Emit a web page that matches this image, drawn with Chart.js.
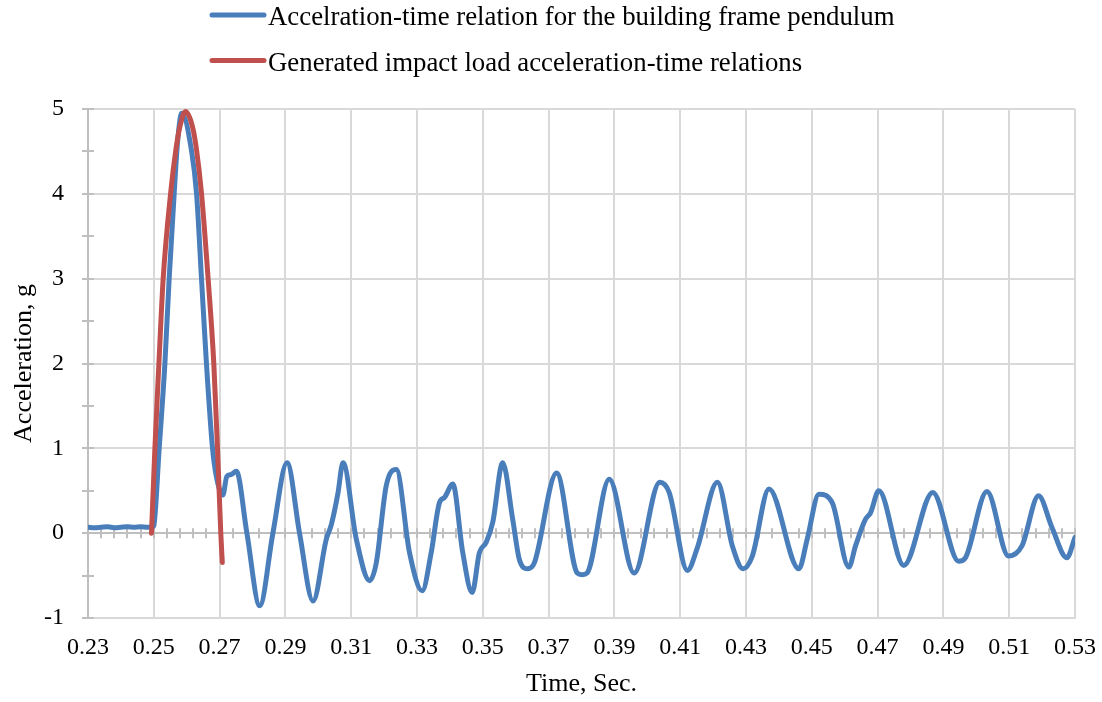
<!DOCTYPE html>
<html>
<head>
<meta charset="utf-8">
<title>Acceleration-time</title>
<script src="https://cdn.jsdelivr.net/npm/chart.js@4.4.1/dist/chart.umd.min.js"></script>
<style>
    html, body { margin: 0; padding: 0; background: #fff; }
    #chart { display: block; }
</style>
</head>
<body>
<canvas id="chart" width="1102" height="702"></canvas>
<script>
// building frame pendulum (blue)
const blueTime = [
    0.2300, 0.2320, 0.2340, 0.2360, 0.2380, 0.2400, 0.2420, 0.2440, 0.2460, 0.2480, 0.2495,
    0.2500, 0.25164, 0.25337, 0.25467, 0.25619, 0.2572, 0.2585, 0.2615, 0.2630, 0.2645,
    0.2660, 0.26785, 0.2690, 0.2710, 0.2722, 0.2735, 0.2751, 0.2783, 0.2822, 0.2862,
    0.2905, 0.2943, 0.2984, 0.30244, 0.30396, 0.30597, 0.3075, 0.31155, 0.3156, 0.31762,
    0.32065, 0.3237, 0.32773, 0.33158, 0.33431, 0.33683, 0.33835, 0.34087, 0.34391, 0.34676,
    0.34897, 0.35101, 0.35301, 0.35605, 0.35908, 0.36111, 0.36363, 0.36566, 0.37243, 0.3787,
    0.3802, 0.3817, 0.38843, 0.3960, 0.4038, 0.40664, 0.41219, 0.41523, 0.4213, 0.42585,
    0.4291, 0.43192, 0.43699, 0.44609, 0.44861, 0.45216, 0.4562, 0.46126, 0.46329, 0.46633,
    0.46785, 0.47037, 0.47796, 0.48676, 0.49465, 0.49668, 0.50324, 0.5098, 0.51387, 0.51893,
    0.52297, 0.52752, 0.5300,
];
const blueAccel = [
    0.07, 0.065, 0.07, 0.075, 0.065, 0.07, 0.075, 0.07, 0.075, 0.07, 0.07,
    0.09, 1.0, 2.0, 3.0, 4.0, 4.6, 4.95, 4.5, 4.0, 3.0,
    2.0, 1.0, 0.67, 0.45, 0.67, 0.69, 0.73, 0.0, -0.855, 0.0,
    0.83, 0.0, -0.80, -0.07, 0.10, 0.47, 0.83, -0.07, -0.56, -0.35,
    0.56, 0.75, -0.23, -0.68, -0.23, 0.36, 0.42, 0.58, -0.23, -0.70,
    -0.23, -0.11, 0.125, 0.83, 0.165, -0.31, -0.42, -0.35, 0.71, -0.47,
    -0.49, -0.47, 0.635, -0.47, 0.60, 0.48, -0.44, -0.17, 0.60, -0.15,
    -0.42, -0.27, 0.52, -0.42, -0.07, 0.46, 0.36, -0.40, -0.15, 0.165,
    0.24, 0.50, -0.38, 0.48, -0.33, -0.29, 0.49, -0.27, -0.15, 0.44,
    0.07, -0.29, -0.05,
];

// generated impact load (red)
const redTime = [
    0.2493, 0.25033, 0.25155, 0.25285, 0.2551, 0.25671, 0.25792, 0.25965,
    0.26177, 0.26299, 0.26451, 0.26651, 0.26824, 0.26936, 0.27036, 0.27082,
];
const redAccel = [
    0.0, 1.0, 2.0, 3.0, 4.0, 4.52, 4.79, 4.97,
    4.79, 4.52, 4.0, 3.0, 2.0, 1.0, 0.0, -0.345,
];

const seriesLabels = [
    'Accelration-time relation for the building frame pendulum',
    'Generated impact load acceleration-time relations',
];

const xMin = 0.23;
const xMax = 0.53;
const xStep = 0.02;
const xMinorStep = 0.004;
const yMin = -1;
const yMax = 5;
const yMinorStep = 0.5;

const gridColor = '#d9d9d9';
const axisColor = '#bfbfbf';
const fontFamily = '"Liberation Serif", "Times New Roman", serif';

function toPoints(xs, ys) {
    return xs.map((x, i) => ({ x, y: ys[i] }));
}

// Excel-style crossing ticks: minor ticks along y = 0, half-unit ticks on the value axis
const axisTicksPlugin = {
    id: 'axisTicks',
    beforeDatasetsDraw(chart) {
        const { ctx, scales: { x, y } } = chart;
        const zeroY = y.getPixelForValue(0);
        const xCount = Math.round((x.max - x.min) / xMinorStep);
        const yCount = Math.round((y.max - y.min) / yMinorStep);

        ctx.save();
        ctx.strokeStyle = axisColor;
        ctx.lineWidth = 2;
        ctx.beginPath();
        for (let i = 0; i <= xCount; i++) {
            const px = Math.round(x.getPixelForValue(x.min + i * xMinorStep));
            ctx.moveTo(px, zeroY - 5);
            ctx.lineTo(px, zeroY + 5);
        }
        for (let i = 0; i <= yCount; i++) {
            const py = Math.round(y.getPixelForValue(y.min + i * yMinorStep));
            ctx.moveTo(x.left - 6, py);
            ctx.lineTo(x.left + 6, py);
        }
        ctx.stroke();
        ctx.restore();
    },
};

// legend rows left aligned, one per series
const rowLegendPlugin = {
    id: 'rowLegend',
    afterDraw(chart) {
        const { ctx } = chart;

        ctx.save();
        ctx.font = `26.8px ${fontFamily}`;
        ctx.textBaseline = 'alphabetic';
        ctx.textAlign = 'left';
        chart.data.datasets.forEach((dataset, i) => {
            const rowY = 15 + i * 45.5;

            ctx.strokeStyle = dataset.borderColor;
            ctx.lineWidth = 5;
            ctx.lineCap = 'round';
            ctx.beginPath();
            ctx.moveTo(212, rowY);
            ctx.lineTo(264, rowY);
            ctx.stroke();
            ctx.fillStyle = '#000';
            ctx.fillText(dataset.label, 268, rowY + 10);
        });
        ctx.restore();
    },
};

new Chart(document.getElementById('chart'), {
    type: 'line',
    data: {
        datasets: [
            {
                label: seriesLabels[0],
                data: toPoints(blueTime, blueAccel),
                borderColor: '#4a7ebb',
                borderWidth: 5,
                order: 2,
            },
            {
                label: seriesLabels[1],
                data: toPoints(redTime, redAccel),
                borderColor: '#c0504d',
                borderWidth: 5,
                order: 1,
            },
        ],
    },
    options: {
        responsive: false,
        animation: false,
        devicePixelRatio: 1,
        events: [],
        layout: {
            padding: { top: 109, right: 27, left: 0, bottom: 0 },
        },
        elements: {
            point: { radius: 0 },
            line: {
                cubicInterpolationMode: 'monotone',
                borderJoinStyle: 'round',
                borderCapStyle: 'round',
            },
        },
        plugins: {
            legend: { display: false },
            tooltip: { enabled: false },
        },
        scales: {
            x: {
                type: 'linear',
                min: xMin,
                max: xMax,
                afterFit: (scale) => {
                    scale.height = 84;
                    scale.paddingLeft = 0;
                    scale.paddingRight = 0;
                },
                ticks: {
                    stepSize: xStep,
                    padding: 15,
                    color: '#000',
                    font: { family: fontFamily, size: 24 },
                    maxRotation: 0,
                    callback: (value) => value.toFixed(2),
                },
                grid: {
                    color: gridColor,
                    lineWidth: 2,
                    drawTicks: false,
                },
                border: { color: gridColor, width: 2 },
                title: {
                    display: true,
                    text: 'Time, Sec.',
                    color: '#000',
                    font: { family: fontFamily, size: 26 },
                    padding: { top: 0, bottom: 2 },
                },
            },
            y: {
                min: yMin,
                max: yMax,
                afterFit: (scale) => { scale.width = 88; },
                ticks: {
                    stepSize: 1,
                    padding: 24,
                    color: '#000',
                    font: { family: fontFamily, size: 24 },
                },
                grid: {
                    color: (ctx) => (ctx.tick && ctx.tick.value === 0 ? axisColor : gridColor),
                    lineWidth: 2,
                    drawTicks: false,
                },
                border: { color: axisColor, width: 2 },
                title: {
                    display: true,
                    text: 'Acceleration, g',
                    color: '#000',
                    font: { family: fontFamily, size: 26 },
                    padding: { top: 9, bottom: 0 },
                },
            },
        },
    },
    plugins: [axisTicksPlugin, rowLegendPlugin],
});
</script>
</body>
</html>
